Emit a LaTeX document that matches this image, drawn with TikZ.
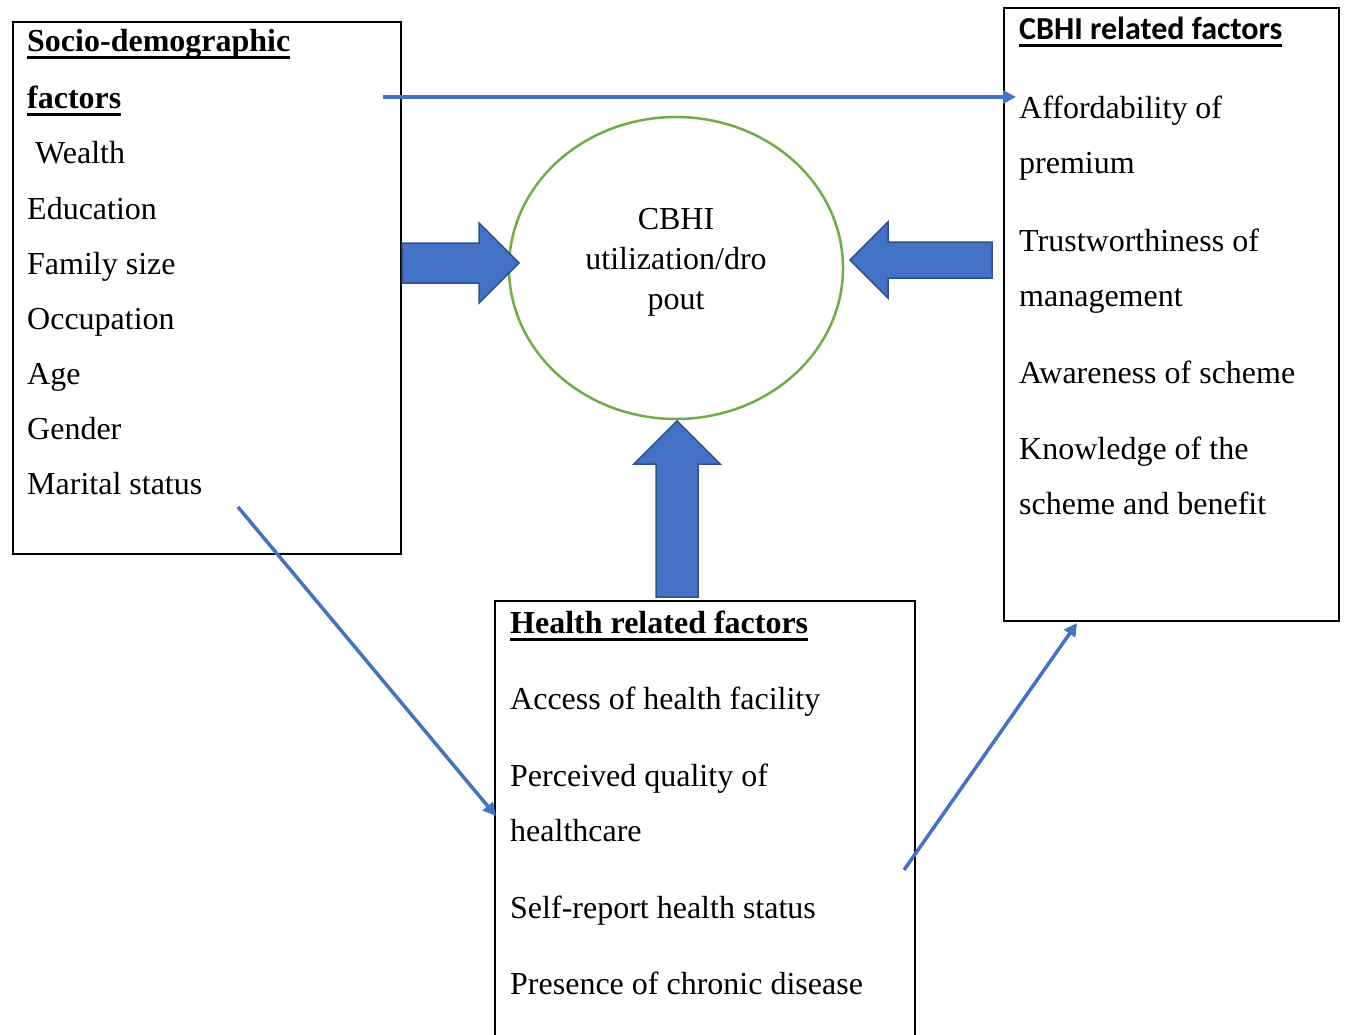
\documentclass[tikz,border=0pt]{standalone}
\usepackage{fontspec}
\setmainfont{Liberation Serif}
\newfontfamily\calib{Carlito}
\usetikzlibrary{arrows.meta,shapes.geometric}
\definecolor{arrowblue}{HTML}{4472C4}
\definecolor{arrowedge}{HTML}{2F528F}
\definecolor{ellgreen}{HTML}{70AD47}
\newsavebox{\ulbox}
\newcommand{\myul}[1]{\sbox{\ulbox}{#1}\rlap{\rule[-7.5pt]{\wd\ulbox}{3pt}}\usebox{\ulbox}}
\tikzset{
  txt/.style={anchor=base west, inner sep=0pt, font=\fontsize{32}{38}\selectfont},
  ctxt/.style={anchor=base, inner sep=0pt, font=\fontsize{32}{38}\selectfont},
  head/.style={anchor=base west, inner sep=0pt, font=\fontsize{32}{38}\selectfont\bfseries},
  factorbox/.style={draw=black, line width=2pt},
  thinarrow/.style={draw=arrowblue, line width=3.5pt, -{Triangle[length=13pt,width=13pt]}},
  blockarrow/.style={fill=arrowblue, draw=arrowedge, line width=1.5pt, line join=miter},
}
\begin{document}
\begin{tikzpicture}[x=1pt,y=-1pt]
\useasboundingbox (0,0) rectangle (1348,1035);
\fill[white] (0,0) rectangle (1348,1035);

% boxes
\draw[factorbox] (13,22) rectangle (401,554);
\draw[factorbox] (1004,8) rectangle (1339,621);
\draw[factorbox] (495,601) rectangle (915,1060);

% central ellipse
\node[ellipse, draw=ellgreen, line width=2.5pt, minimum width=334pt, minimum height=302pt, inner sep=0pt] (cbhi) at (676,268) {};
\node[ctxt] (c1) at (676,229) {CBHI};
\node[ctxt] (c2) at (676,269) {utilization/dro};
\node[ctxt] (c3) at (676,309) {pout};

% left box text
\node[head] (sd1) at (27,52) {\myul{Socio-demographic}};
\node[head] (sd2) at (27,109) {\myul{factors}};
\node[txt] (s1) at (27,164) {\ Wealth};
\node[txt] (s2) at (27,219) {Education};
\node[txt] (s3) at (27,274) {Family size};
\node[txt] (s4) at (27,329) {Occupation};
\node[txt] (s5) at (27,384) {Age};
\node[txt] (s6) at (27,439) {Gender};
\node[txt] (s7) at (27,494) {Marital status};

% right box text
\node[anchor=base west, inner sep=0pt, font=\calib\fontsize{32}{38}\selectfont\bfseries] (cb0) at (1019,40) {\myul{CBHI related factors}};
\node[txt] (r1) at (1019,119) {Affordability of};
\node[txt] (r2) at (1019,174) {premium};
\node[txt] (r3) at (1019,251) {Trustworthiness of};
\node[txt] (r4) at (1019,306) {management};
\node[txt] (r5) at (1019,383) {Awareness of scheme};
\node[txt] (r6) at (1019,459) {Knowledge of the};
\node[txt] (r7) at (1019,514) {scheme and benefit};

% bottom box text
\node[head] (h0) at (510,633) {\myul{Health related factors}};
\node[txt] (h1) at (510,709) {Access of health facility};
\node[txt] (h2) at (510,786) {Perceived quality of};
\node[txt] (h3) at (510,841) {healthcare};
\node[txt] (h4) at (510,918) {Self-report health status};
\node[txt] (h5) at (510,994) {Presence of chronic disease};

% block arrows
\draw[blockarrow] (402,243) -- (479,243) -- (479,223) -- (519,263) -- (479,303) -- (479,283) -- (402,283) -- cycle;
\draw[blockarrow] (992,242) -- (888,242) -- (888,222) -- (850,260) -- (888,298) -- (888,278) -- (992,278) -- cycle;
\draw[blockarrow] (656,597) -- (656,464) -- (634,464) -- (677,421) -- (720,464) -- (698,464) -- (698,597) -- cycle;

% thin arrows
\coordinate (a1s) at (383,97);
\coordinate (a1e) at (1016,97);
\coordinate (a2s) at (238,507);
\coordinate (a2e) at (496,816);
\coordinate (a3s) at (904,870);
\coordinate (a3e) at (1077,623);
\draw[thinarrow] (a1s) -- (a1e);
\draw[thinarrow] (a2s) -- (a2e);
\draw[thinarrow] (a3s) -- (a3e);
\end{tikzpicture}
\end{document}
